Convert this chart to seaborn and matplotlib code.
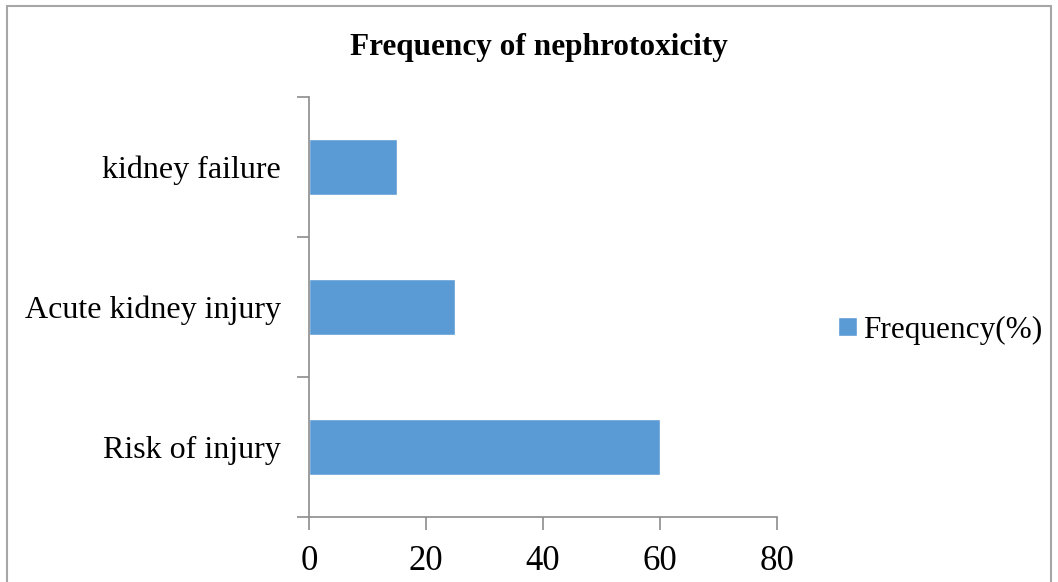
import matplotlib
matplotlib.use("Agg")
import matplotlib.pyplot as plt
import seaborn as sns
from matplotlib.lines import Line2D

# data
categories = ["kidney failure", "Acute kidney injury", "Risk of injury"]
frequency = [15, 25, 60]
x_ticks = [0, 20, 40, 60, 80]

sns.set_style("white")
plt.rcParams["font.family"] = ["Liberation Serif", "DejaVu Serif"]
plt.rcParams["text.color"] = "black"
plt.rcParams["xtick.color"] = "black"
plt.rcParams["ytick.color"] = "black"

bar_color = "#5B9BD5"
axis_gray = "#8C8C8C"

fig = plt.figure(figsize=(10.58, 5.82), dpi=100)
ax = fig.add_axes([309 / 1058, 1 - 517 / 582, (777 - 309) / 1058, (517 - 97) / 582])

sns.barplot(x=frequency, y=categories, orient="h", color=bar_color,
            width=0.4, saturation=1, label="Frequency(%)", ax=ax)

ax.set_xlim(0, 80)
ax.set_ylim(2.5, -0.5)
ax.set_xticks(x_ticks)
ax.set_xlabel("")
ax.set_ylabel("")

for side in ["top", "right"]:
    ax.spines[side].set_visible(False)
for side in ["left", "bottom"]:
    ax.spines[side].set_color(axis_gray)
    ax.spines[side].set_linewidth(1.2)

# ticks at the category boundaries on the y axis
ax.set_yticks([-0.5, 0.5, 1.5, 2.5], minor=True)
ax.tick_params(axis="y", which="major", left=True, length=0, pad=20, labelsize=23,
               labelcolor="black")
ax.tick_params(axis="y", which="minor", left=True, length=9, width=1.2,
               color=axis_gray, direction="out")
ax.tick_params(axis="x", which="major", bottom=True, length=9, width=1.2, color=axis_gray,
               direction="out", pad=11, labelsize=25, labelcolor="black")

fig.suptitle("Frequency of nephrotoxicity", x=539 / 1058, y=1 - 48 / 582,
             fontsize=22.5, fontweight="bold", va="center", color="black")

handles, labels = ax.get_legend_handles_labels()
if ax.get_legend() is not None:
    ax.get_legend().remove()
fig.legend(handles, labels, loc="center left", bbox_to_anchor=(838 / 1058, 1 - 330 / 582),
           frameon=False, fontsize=22.5, handlelength=0.6, handleheight=0.6,
           handletextpad=0.2, borderaxespad=0, borderpad=0, labelcolor="black")

# grey frame round the chart
for xs, ys in [([7, 7], [582, 6]), ([7, 1051], [6, 6]), ([1051, 1051], [6, 582])]:
    fig.add_artist(Line2D([x / 1058 for x in xs], [1 - y / 582 for y in ys],
                          color="#A6A6A6", linewidth=1.5))

fig.savefig("out.png", dpi=100)
